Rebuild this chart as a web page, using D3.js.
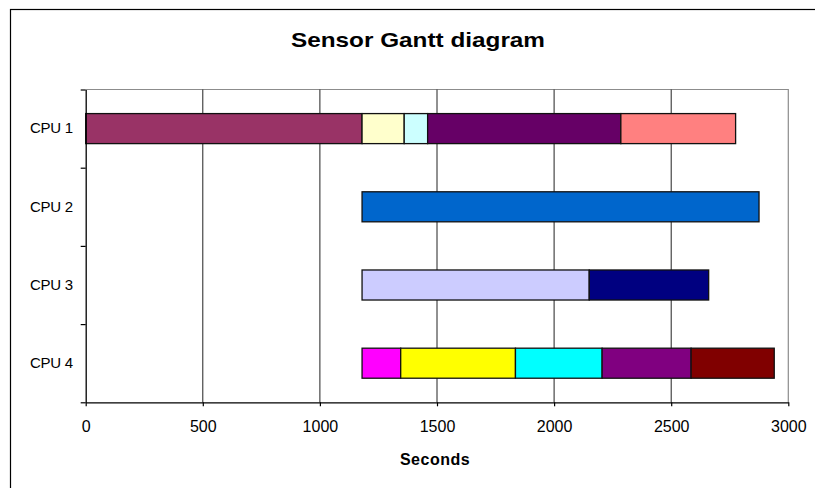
<!DOCTYPE html>
<html>
<head>
<meta charset="utf-8">
<title>Sensor Gantt diagram</title>
<script src="https://cdn.jsdelivr.net/npm/d3@7"></script>
<style>
  html, body { margin: 0; padding: 0; background: #fff; }
  svg { display: block; font-family: Arial, "Liberation Sans", sans-serif; }
</style>
</head>
<body>
<svg id="chart" width="815" height="488"></svg>
<script>
// Processors shown as rows
const cpus = ["CPU 1", "CPU 2", "CPU 3", "CPU 4"];

// Task boundaries (seconds) on each processor: start, then the end of every task
const cpu1Times = [0, 1180, 1360, 1460, 2285, 2775];
const cpu2Times = [1180, 2875];
const cpu3Times = [1180, 2150, 2660];
const cpu4Times = [1180, 1345, 1835, 2205, 2585, 2940];

// Fill colour of each task, in order
const cpu1Colors = ["#993366", "#FFFFCC", "#CCFFFF", "#660066", "#FF8080"];
const cpu2Colors = ["#0066CC"];
const cpu3Colors = ["#CCCCFF", "#000080"];
const cpu4Colors = ["#FF00FF", "#FFFF00", "#00FFFF", "#800080", "#800000"];

const xTicks = [0, 500, 1000, 1500, 2000, 2500, 3000];
const xMax = 3000;

const rows = [
  { cpu: cpus[0], times: cpu1Times, colors: cpu1Colors },
  { cpu: cpus[1], times: cpu2Times, colors: cpu2Colors },
  { cpu: cpus[2], times: cpu3Times, colors: cpu3Colors },
  { cpu: cpus[3], times: cpu4Times, colors: cpu4Colors }
];

// Flatten into one record per task
const tasks = [];
rows.forEach(r => {
  for (let i = 0; i < r.times.length - 1; i++) {
    tasks.push({ cpu: r.cpu, start: r.times[i], end: r.times[i + 1], color: r.colors[i] });
  }
});

const svg = d3.select("#chart");
const plot = { left: 85.7, right: 788.3, top: 89.5, bottom: 402.3 };

const x = d3.scaleLinear().domain([0, xMax]).range([plot.left, plot.right]);
const y = d3.scaleBand().domain(cpus).range([plot.top, plot.bottom])
  .paddingInner(0.616).paddingOuter(0.308);
const yEdge = d3.scaleLinear().domain([0, cpus.length]).range([plot.top, plot.bottom]);

// Outer frame of the chart
svg.append("rect")
  .attr("x", 10.5).attr("y", 9.5)
  .attr("width", 900).attr("height", 900)
  .attr("fill", "none").attr("stroke", "#000").attr("stroke-width", 1.2);

// Title
svg.append("text")
  .attr("x", 418).attr("y", 47.3)
  .attr("text-anchor", "middle")
  .attr("font-size", "20.5px").attr("font-weight", "bold")
  .attr("textLength", 254).attr("lengthAdjust", "spacingAndGlyphs")
  .text("Sensor Gantt diagram");

// Plot area border (top and right)
svg.append("path")
  .attr("d", `M${plot.left},${plot.top}H${plot.right}V${plot.bottom}`)
  .attr("fill", "none").attr("stroke", "#8c8c8c").attr("stroke-width", 1.2);

// Vertical gridlines
svg.append("g").selectAll("line")
  .data(xTicks.filter(t => t > 0 && t < xMax))
  .join("line")
  .attr("x1", d => x(d)).attr("x2", d => x(d))
  .attr("y1", plot.top).attr("y2", plot.bottom)
  .attr("stroke", "#222").attr("stroke-width", 1);

// Task bars
svg.append("g").selectAll("rect")
  .data(tasks)
  .join("rect")
  .attr("x", d => x(d.start))
  .attr("width", d => x(d.end) - x(d.start))
  .attr("y", d => y(d.cpu))
  .attr("height", y.bandwidth())
  .attr("fill", d => d.color)
  .attr("stroke", "#111").attr("stroke-width", 1.3);

// X axis
const xAxis = svg.append("g")
  .attr("transform", `translate(0,${plot.bottom})`)
  .call(d3.axisBottom(x).tickValues(xTicks).tickFormat(d3.format("d"))
    .tickSize(4).tickPadding(14.3).tickSizeOuter(0));
xAxis.select(".domain").attr("stroke", "#000").attr("stroke-width", 1.3);
xAxis.selectAll(".tick line").attr("stroke", "#000").attr("stroke-width", 1.2);
xAxis.selectAll("text").attr("font-size", "16px").attr("fill", "#000")
  .attr("font-family", "Arial, 'Liberation Sans', sans-serif");

// Y axis: ticks between rows
const yTickAxis = svg.append("g")
  .attr("transform", `translate(${plot.left},0)`)
  .call(d3.axisLeft(yEdge).tickValues(d3.range(cpus.length + 1))
    .tickFormat("").tickSize(5).tickSizeOuter(0));
yTickAxis.select(".domain").attr("stroke", "#000").attr("stroke-width", 1.3);
yTickAxis.selectAll(".tick line").attr("stroke", "#000").attr("stroke-width", 1.2);

// Y axis: processor labels
const yLabelAxis = svg.append("g")
  .attr("transform", `translate(${plot.left},0)`)
  .call(d3.axisLeft(y).tickSize(0).tickPadding(13));
yLabelAxis.select(".domain").remove();
yLabelAxis.selectAll("text").attr("font-size", "15px").attr("fill", "#000")
  .attr("letter-spacing", "-0.3px")
  .attr("font-family", "Arial, 'Liberation Sans', sans-serif");

// X axis title
svg.append("text")
  .attr("x", 435).attr("y", 465)
  .attr("text-anchor", "middle")
  .attr("font-size", "16px").attr("font-weight", "bold")
  .attr("letter-spacing", "0.5px")
  .text("Seconds");
</script>
</body>
</html>
